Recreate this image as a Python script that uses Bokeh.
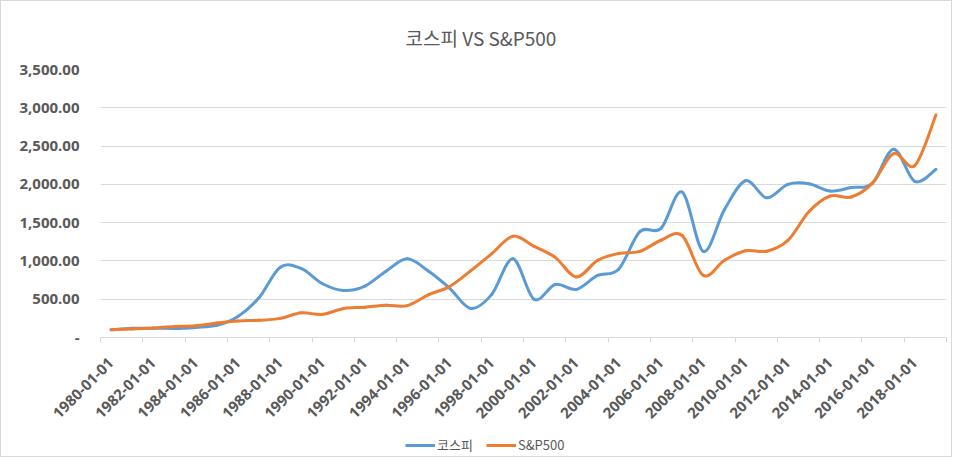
import math
from bokeh.plotting import figure
from bokeh.layouts import column
from bokeh.models import (FixedTicker, NumeralTickFormatter, Range1d, Legend,
                          LegendItem, ColumnDataSource)
from bokeh.embed import file_html
from bokeh.resources import INLINE

# ---------------- data ----------------
dates = ["1980-01-01", "1981-01-01", "1982-01-01", "1983-01-01", "1984-01-01",
         "1985-01-01", "1986-01-01", "1987-01-01", "1988-01-01", "1989-01-01",
         "1990-01-01", "1991-01-01", "1992-01-01", "1993-01-01", "1994-01-01",
         "1995-01-01", "1996-01-01", "1997-01-01", "1998-01-01", "1999-01-01",
         "2000-01-01", "2001-01-01", "2002-01-01", "2003-01-01", "2004-01-01",
         "2005-01-01", "2006-01-01", "2007-01-01", "2008-01-01", "2009-01-01",
         "2010-01-01", "2011-01-01", "2012-01-01", "2013-01-01", "2014-01-01",
         "2015-01-01", "2016-01-01", "2017-01-01", "2018-01-01", "2019-01-01"]

kospi = [100, 120, 122, 118, 132, 158, 275, 522, 918, 900,
         702, 615, 672, 866, 1027, 868, 645, 380, 563, 1028,
         500, 692, 628, 810, 892, 1382, 1425, 1900, 1124, 1670,
         2048, 1824, 2000, 2008, 1912, 1958, 2015, 2460, 2038, 2196]

sp500 = [100, 111, 124, 145, 153, 188, 217, 224, 250, 322,
         302, 380, 396, 421, 416, 558, 664, 870, 1095, 1323,
         1189, 1046, 790, 1008, 1097, 1124, 1270, 1332, 811, 1008,
         1133, 1127, 1268, 1645, 1848, 1835, 2016, 2402, 2246, 2906]

y_ticks = [0, 500, 1000, 1500, 2000, 2500, 3000, 3500]

series = [kospi, sp500]
series_names = ["코스피", "S&P500"]
series_colors = ["#5B9BD5", "#ED7D31"]

TEXT = "#595959"
GRID = "#D9D9D9"


def smooth_source(vals):
    """Bezier segments through every data point (Excel-like smoothed line)."""
    n = len(vals)
    xs = list(range(n))
    d = dict(x0=[], y0=[], x1=[], y1=[], cx0=[], cy0=[], cx1=[], cy1=[])
    for i in range(n - 1):
        a = max(i - 1, 0)
        b = min(i + 2, n - 1)
        d["x0"].append(xs[i]); d["y0"].append(vals[i])
        d["x1"].append(xs[i + 1]); d["y1"].append(vals[i + 1])
        d["cx0"].append(xs[i] + (xs[i + 1] - xs[a]) / 6)
        d["cy0"].append(vals[i] + (vals[i + 1] - vals[a]) / 6)
        d["cx1"].append(xs[i + 1] - (xs[b] - xs[i]) / 6)
        d["cy1"].append(vals[i + 1] - (vals[b] - vals[i]) / 6)
    return ColumnDataSource(d)


W = 950
p = figure(width=W, height=425, output_backend="svg", toolbar_location=None,
           x_range=Range1d(-0.5, len(dates) - 0.5), y_range=Range1d(0, 3500),
           min_border_left=99, min_border_right=5, min_border_top=68,
           min_border_bottom=89)
p.outline_line_color = None
p.background_fill_color = "white"
p.border_fill_color = "white"

# title
p.title.text = "코스피 VS S&P500"
p.title.text_font = "Noto Sans CJK KR"
p.title.text_font_size = "19px"
p.title.text_font_style = "normal"
p.title.text_color = TEXT
p.title.align = "left"
p.title.offset = 305
p.title.standoff = 38
p.title.vertical_align = "bottom"

for vals, color in zip(series, series_colors):
    p.bezier(x0="x0", y0="y0", x1="x1", y1="y1", cx0="cx0", cy0="cy0",
             cx1="cx1", cy1="cy1", source=smooth_source(vals),
             line_color=color, line_width=3, line_cap="round")

# y axis
yax = p.yaxis[0]
yax.ticker = FixedTicker(ticks=y_ticks)
yax.formatter = NumeralTickFormatter(format="0,0.00")
yax.major_label_overrides = {0: "-"}
yax.axis_line_color = None
yax.major_tick_line_color = None
yax.minor_tick_line_color = None
yax.major_tick_out = 0
yax.major_label_standoff = 21
yax.major_label_text_font = "Open Sans"
yax.major_label_text_font_style = "bold"
yax.major_label_text_font_size = "15px"
yax.major_label_text_color = TEXT

p.ygrid.grid_line_color = GRID
p.ygrid.grid_line_width = 1
p.xgrid.grid_line_color = None

# x axis: labels every 2 categories, tick marks on category boundaries
label_idx = list(range(0, len(dates), 2))
xax = p.xaxis[0]
xax.ticker = FixedTicker(ticks=label_idx,
                         minor_ticks=[i - 0.5 for i in range(0, len(dates) + 1, 2)])
xax.major_label_overrides = {i: dates[i] for i in label_idx}
xax.major_label_orientation = math.pi / 4
xax.axis_line_color = GRID
xax.axis_line_width = 1
xax.major_tick_line_color = None
xax.major_tick_out = 0
xax.major_tick_in = 0
xax.minor_tick_line_color = GRID
xax.minor_tick_out = 5
xax.minor_tick_in = 0
xax.major_label_standoff = 18
xax.major_label_text_font = "Open Sans"
xax.major_label_text_font_style = "bold"
xax.major_label_text_font_size = "15px"
xax.major_label_text_color = TEXT

# legend strip below the chart (its series lie outside its own view)
lg = figure(width=W, height=30, output_backend="svg", toolbar_location=None,
            x_range=Range1d(0, 1), y_range=Range1d(-2, -1),
            x_axis_location=None, y_axis_location=None,
            min_border=0, min_border_left=0, min_border_right=0,
            min_border_top=0, min_border_bottom=0)
lg.grid.visible = False
lg.outline_line_color = None
lg.background_fill_color = "white"
lg.border_fill_color = "white"
keys = [lg.line(x=list(range(len(vals))), y=vals, line_color=c, line_width=3)
        for vals, c in zip(series, series_colors)]
legend = Legend(items=[LegendItem(label=n, renderers=[r])
                       for n, r in zip(series_names, keys)],
                orientation="horizontal", location=(305, 2),
                glyph_width=30, glyph_height=16, label_standoff=2, spacing=13,
                padding=0, margin=0, border_line_color=None,
                background_fill_alpha=0,
                label_text_font="Noto Sans CJK KR", label_text_font_size="13px",
                label_text_color=TEXT)
lg.add_layout(legend, "center")

layout = column(p, lg, spacing=0, styles={"border": "1px solid #D9D9D9"})

open("out.html", "w").write(file_html(layout, INLINE))
